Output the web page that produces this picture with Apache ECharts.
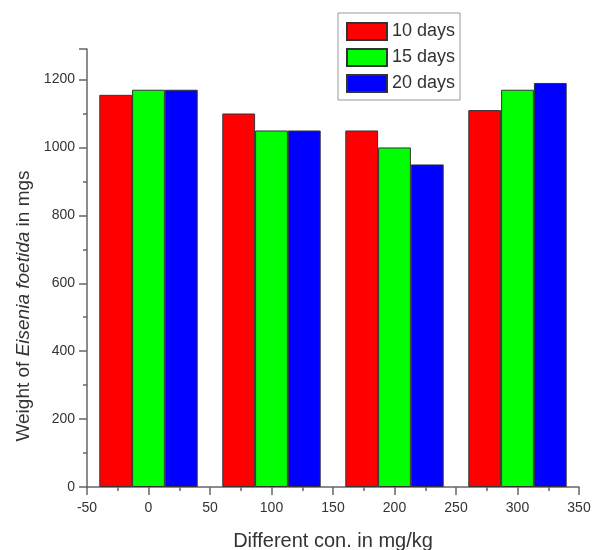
<!DOCTYPE html>
<html>
<head>
<meta charset="utf-8">
<script src="https://cdn.jsdelivr.net/npm/echarts@6/dist/echarts.min.js"></script>
<style>html,body{margin:0;padding:0;background:#fff}#c{width:593px;height:550px}</style>
</head>
<body>
<div id="c"></div>
<script>
const concentrations = [0, 100, 200, 300];
const seriesNames = ['10 days', '15 days', '20 days'];
const days10 = [1155, 1100, 1050, 1110];
const days15 = [1170, 1050, 1000, 1170];
const days20 = [1170, 1050, 950, 1190];
const colors = ['#ff0000', '#00ff00', '#0000ff'];
const allValues = [days10, days15, days20];

const chart = echarts.init(document.getElementById('c'));
const font = 'Liberation Sans, Arial, sans-serif';
const axisColor = '#666';
chart.setOption({
  animation: false,
  textStyle: { fontFamily: font },
  grid: { left: 87, right: 14, top: 49, bottom: 63, containLabel: false, outerBoundsMode: 'none' },
  legend: {
    orient: 'vertical', left: 338, top: 13,
    data: seriesNames,
    itemWidth: 40, itemHeight: 17, itemGap: 7,
    padding: [9, 5, 7, 8],
    borderColor: '#999', borderWidth: 1,
    textStyle: { fontSize: 18, color: '#333', fontFamily: font, lineHeight: 17 },
    icon: 'rect'
  },
  xAxis: {
    type: 'value', min: -50, max: 350, interval: 50,
    name: 'Different con. in mg/kg', nameLocation: 'middle', nameGap: 44,
    nameTextStyle: { fontSize: 20, color: '#333', fontFamily: font },
    axisLine: { show: true, onZero: false, lineStyle: { color: axisColor, width: 1.5 } },
    axisTick: { show: true, length: 8, inside: false, lineStyle: { color: axisColor, width: 1.5 } },
    minorTick: { show: true, splitNumber: 2, length: 4, lineStyle: { color: axisColor, width: 1.5 } },
    axisLabel: { fontSize: 14, color: '#333', margin: 14 },
    splitLine: { show: false }
  },
  yAxis: {
    type: 'value', min: 0, max: 1290, interval: 200,
    name: 'Weight of {i|Eisenia foetida} in mgs', nameLocation: 'middle', nameGap: 54,
    nameTextStyle: { fontSize: 19, color: '#333', fontFamily: font, padding: [0, 76, 0, 0],
      rich: { i: { fontStyle: 'italic', fontSize: 19, color: '#333', fontFamily: font } } },
    axisLine: { show: true, onZero: false, lineStyle: { color: axisColor, width: 1.5 } },
    axisTick: { show: true, length: 8, lineStyle: { color: axisColor, width: 1.5 } },
    minorTick: { show: true, splitNumber: 2, length: 4, lineStyle: { color: axisColor, width: 1.5 } },
    axisLabel: { fontSize: 14, color: '#333', margin: 12,
      formatter: v => (v % 200 === 0 && v <= 1200) ? String(v) : '' },
    splitLine: { show: false }
  },
  series: seriesNames.map((n, k) => ({
    name: n, type: 'bar',
    data: concentrations.map((c, i) => [c, allValues[k][i]]),
    barWidth: 32.8, barGap: '0%',
    itemStyle: { color: colors[k], borderColor: '#333', borderWidth: 1 }
  }))
});
</script>
</body>
</html>
